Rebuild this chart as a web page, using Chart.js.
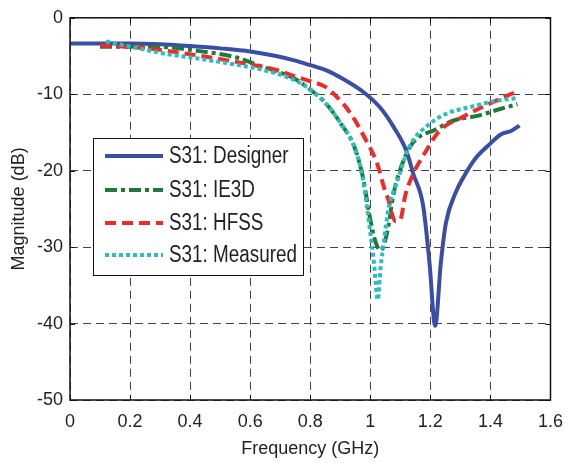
<!DOCTYPE html>
<html>
<head>
<meta charset="utf-8">
<script src="https://cdn.jsdelivr.net/npm/chart.js@4.4.1/dist/chart.umd.min.js"></script>
<style>
  html, body { margin: 0; padding: 0; background: #fff; }
  #wrap { width: 574px; height: 463px; }
</style>
</head>
<body>
<div id="wrap"><canvas id="myChart" width="574" height="463"></canvas></div>
<script>
// S31 magnitude vs frequency (GHz / dB)
const designerFreq = [0, 0.1, 0.2, 0.3, 0.4, 0.5, 0.6, 0.686, 0.75, 0.8, 0.85, 0.914, 0.98, 1.034, 1.078, 1.12, 1.143, 1.176, 1.197, 1.216, 1.235, 1.252, 1.284, 1.317, 1.35, 1.393, 1.437, 1.469, 1.497];
const designerMag = [-3.35, -3.35, -3.35, -3.45, -3.7, -4.0, -4.4, -5.0, -5.6, -6.2, -6.8, -8.1, -9.8, -11.8, -14.3, -17.4, -20.4, -24.6, -32.0, -40.3, -32.0, -26.8, -22.9, -20.4, -18.4, -16.7, -15.2, -14.8, -14.1];

const ie3dFreq = [0.1, 0.2, 0.29, 0.42, 0.555, 0.64, 0.686, 0.75, 0.8, 0.85, 0.903, 0.947, 0.975, 1.0, 1.018, 1.034, 1.056, 1.078, 1.1, 1.132, 1.165, 1.208, 1.273, 1.36, 1.426, 1.49];
const ie3dMag = [-3.8, -3.8, -3.8, -4.3, -5.2, -6.4, -7.0, -8.0, -9.4, -11.1, -13.9, -16.9, -20.8, -26.4, -29.4, -30.4, -28.1, -22.9, -19.8, -16.9, -15.5, -14.8, -13.5, -12.8, -12.0, -11.3];

const hfssFreq = [0.1, 0.26, 0.42, 0.6, 0.686, 0.73, 0.8, 0.849, 0.892, 0.936, 0.98, 1.023, 1.045, 1.06, 1.083, 1.1, 1.116, 1.143, 1.186, 1.23, 1.306, 1.393, 1.49];
const hfssMag = [-3.6, -4.0, -4.9, -6.1, -6.8, -7.4, -8.3, -9.0, -10.5, -12.6, -15.6, -19.1, -22.1, -23.8, -26.6, -26.4, -23.3, -20.4, -17.4, -14.8, -13.0, -11.3, -9.6];

const measFreq = [0.12, 0.23, 0.316, 0.42, 0.533, 0.64, 0.75, 0.8, 0.849, 0.903, 0.947, 0.974, 1.0, 1.012, 1.025, 1.034, 1.045, 1.06, 1.088, 1.12, 1.143, 1.197, 1.25, 1.34, 1.414, 1.49];
const measMag = [-3.1, -4.0, -4.7, -5.3, -6.0, -6.8, -8.2, -9.4, -11.1, -13.9, -16.9, -20.8, -28.1, -32.0, -36.9, -32.8, -29.4, -25.1, -21.6, -17.8, -16.0, -13.9, -12.6, -11.6, -10.9, -10.5];

const seriesNames = ["S31: Designer", "S31: IE3D", "S31: HFSS", "S31: Measured"];

const sans = '"Liberation Sans", Arial, sans-serif';

function pts(xs, ys) {
  return xs.map((x, i) => ({ x: x, y: ys[i] }));
}

// box, inner tick marks and the legend panel, drawn over the curves
const frame = {
  id: "frame",
  afterDatasetsDraw(chart) {
    const ctx = chart.ctx;
    const a = chart.chartArea;
    const xs = chart.scales.x, ys = chart.scales.y;
    ctx.save();
    ctx.strokeStyle = "#111";
    ctx.lineWidth = 1;
    ctx.setLineDash([]);
    ctx.beginPath();
    xs.ticks.forEach(t => {
      const px = Math.round(xs.getPixelForValue(t.value)) + 0.5;
      ctx.moveTo(px, a.bottom); ctx.lineTo(px, a.bottom - 5);
      ctx.moveTo(px, a.top); ctx.lineTo(px, a.top + 5);
    });
    ys.ticks.forEach(t => {
      const py = Math.round(ys.getPixelForValue(t.value)) + 0.5;
      ctx.moveTo(a.left, py); ctx.lineTo(a.left + 5, py);
      ctx.moveTo(a.right, py); ctx.lineTo(a.right - 5, py);
    });
    ctx.stroke();
    ctx.lineWidth = 1.5;
    ctx.strokeRect(a.left, a.top, a.right - a.left, a.bottom - a.top);

    // legend
    const bx = 93, by = 138, bw = 210, bh = 137;
    ctx.fillStyle = "#fff";
    ctx.fillRect(bx, by, bw, bh);
    ctx.lineWidth = 1;
    ctx.strokeRect(bx + 0.5, by + 0.5, bw, bh);
    const rows = [156, 190, 223, 255];
    chart.data.datasets.forEach((ds, i) => {
      const y = rows[i];
      ctx.strokeStyle = ds.borderColor;
      ctx.lineWidth = ds.borderWidth;
      ctx.setLineDash(ds.borderDash || []);
      ctx.lineCap = "butt";
      ctx.beginPath();
      ctx.moveTo(105, y);
      ctx.lineTo(163, y);
      ctx.stroke();
      ctx.setLineDash([]);
      // narrow lettering: squeeze the face horizontally
      ctx.save();
      ctx.translate(169, y + 1);
      ctx.scale(0.82, 1);
      ctx.fillStyle = "#222";
      ctx.font = "23px " + sans;
      ctx.textAlign = "left";
      ctx.textBaseline = "middle";
      ctx.fillText(ds.label, 0, 0);
      ctx.restore();
    });
    ctx.restore();
  }
};

const data = {
  datasets: [
    {
      label: seriesNames[0],
      data: pts(designerFreq, designerMag),
      borderColor: "#3a4ea6",
      borderWidth: 4,
      order: 4,
    },
    {
      label: seriesNames[1],
      data: pts(ie3dFreq, ie3dMag),
      borderColor: "#1f7a3a",
      borderWidth: 4,
      borderDash: [12, 4, 4, 4],
      order: 3,
    },
    {
      label: seriesNames[2],
      data: pts(hfssFreq, hfssMag),
      borderColor: "#ee2a2a",
      borderWidth: 4,
      borderDash: [11, 6],
      order: 2,
    },
    {
      label: seriesNames[3],
      data: pts(measFreq, measMag),
      borderColor: "#2dbdbd",
      borderWidth: 4,
      borderDash: [4, 3],
      order: 1,
    },
  ],
};

const config = {
  type: "line",
  data: data,
  plugins: [frame],
  options: {
    responsive: false,
    animation: false,
    layout: { padding: { top: 12, right: 14, bottom: 0, left: 0 } },
    elements: {
      point: { radius: 0 },
      line: { cubicInterpolationMode: "monotone", fill: false, borderCapStyle: "butt" },
    },
    plugins: {
      legend: { display: false },
      tooltip: { enabled: false },
    },
    scales: {
      x: {
        type: "linear",
        min: 0,
        max: 1.6,
        afterFit: s => { s.height = 63; },
        grid: { color: "#444", lineWidth: 1, drawTicks: false },
        border: { display: false, dash: [8, 5] },
        ticks: {
          stepSize: 0.2,
          autoSkip: false,
          maxRotation: 0,
          padding: 11,
          color: "#222",
          font: { family: sans, size: 18 },
          callback: v => String(+v.toFixed(1)),
        },
        title: {
          display: true,
          text: "Frequency (GHz)",
          color: "#222",
          font: { family: sans, size: 18 },
          padding: { top: 0, bottom: 3 },
        },
      },
      y: {
        min: -50,
        max: 0,
        afterFit: s => { s.width = 70; },
        grid: { color: "#444", lineWidth: 1, drawTicks: false },
        border: { display: false, dash: [8, 5] },
        ticks: {
          stepSize: 10,
          padding: 7,
          color: "#222",
          font: { family: sans, size: 18 },
        },
        title: {
          display: true,
          text: "Magnitude (dB)",
          color: "#222",
          font: { family: sans, size: 18 },
          padding: { top: 8, bottom: 0 },
        },
      },
    },
  },
};

const myChart = new Chart(document.getElementById("myChart"), config);
</script>
</body>
</html>
